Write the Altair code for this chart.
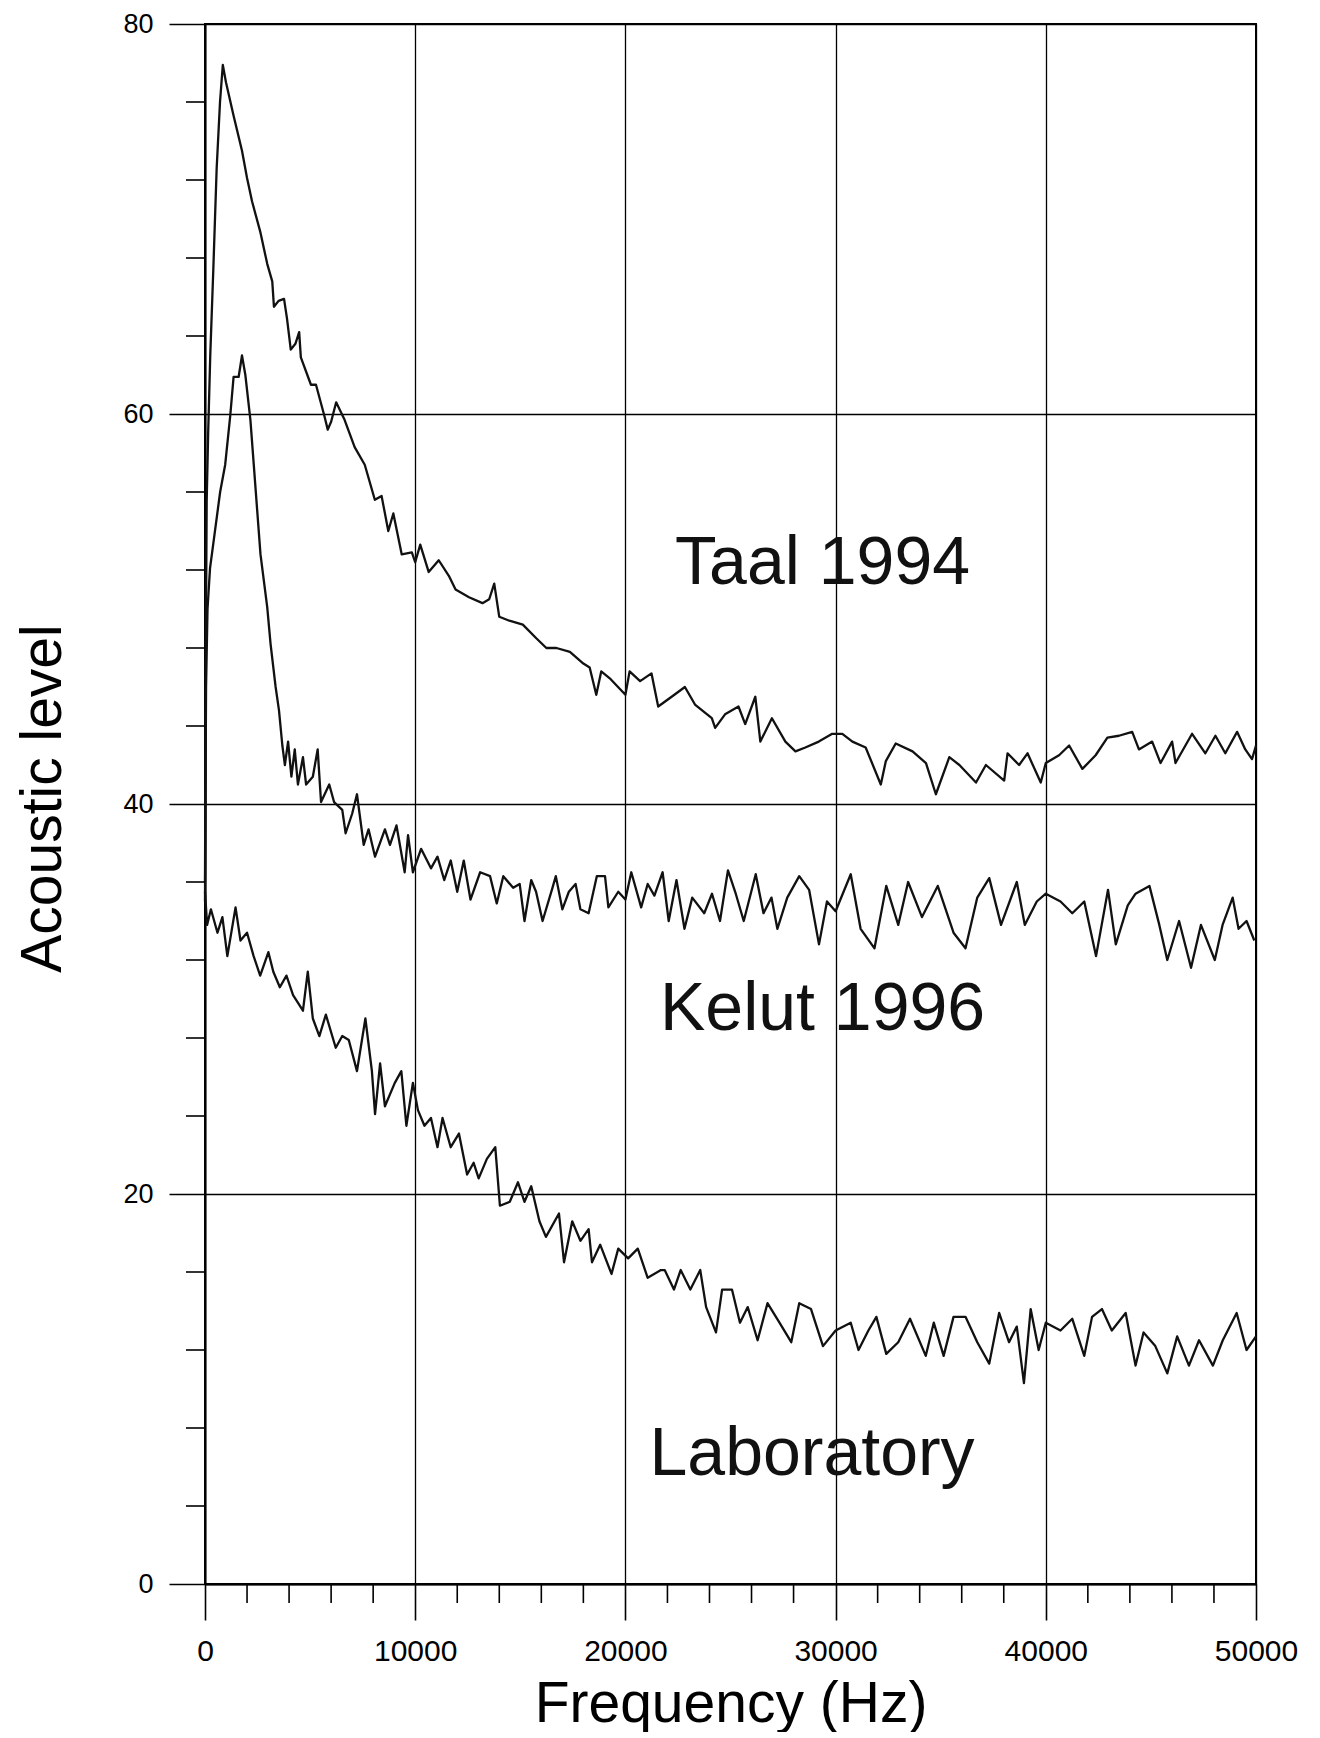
import altair as alt
import pandas as pd

# ---- data (frequency in Hz, acoustic level) ----
taal_hz = [0, 40, 80, 150, 250, 395, 555, 714, 848, 1000, 1360, 1760, 2000, 2240, 2640, 2960, 3200, 3280, 3500,
           3760, 3900, 4080, 4300, 4480, 4560, 5040, 5280, 5680, 5840, 6000, 6240, 6640, 7120, 7600, 8080, 8400,
           8720, 8960, 9360, 9840, 10000, 10240, 10640, 11120, 11600, 11920, 12560, 13200, 13520, 13760, 14000,
           14480, 15120, 15760, 16240, 16720, 17360, 18000, 18300, 18615, 18850, 19300, 19650, 20000, 20200, 20700,
           21240, 21560, 22200, 22830, 23310, 24110, 24270, 24740, 25380, 25700, 26180, 26420, 26970, 27610, 28090,
           28560, 29200, 29840, 30320, 30800, 31430, 32150, 32390, 32860, 33660, 34300, 34770, 35410, 35890, 36680,
           37150, 38020, 38180, 38730, 39130, 39760, 40000, 40630, 41110, 41740, 42370, 42930, 43480, 44110, 44430,
           45060, 45460, 46010, 46170, 46960, 47590, 48070, 48540, 49100, 49490, 49810, 50000]
taal_level = [36.0, 48.0, 55.5, 59.0, 63.0, 67.4, 72.6, 76.0, 77.9, 77.0, 75.3, 73.5, 72.1, 70.9, 69.3, 67.7, 66.8,
              65.5, 65.8, 65.9, 64.9, 63.3, 63.6, 64.2, 62.9, 61.5, 61.5, 59.9, 59.2, 59.6, 60.6, 59.7, 58.3, 57.4,
              55.6, 55.8, 54.0, 54.9, 52.8, 52.9, 52.4, 53.3, 51.9, 52.5, 51.7, 51.0, 50.6, 50.3, 50.5, 51.3, 49.6,
              49.4, 49.2, 48.5, 48.0, 48.0, 47.8, 47.2, 47.0, 45.6, 46.8, 46.4, 46.0, 45.6, 46.8, 46.3, 46.7, 45.0,
              45.5, 46.0, 45.1, 44.4, 43.9, 44.6, 45.0, 44.1, 45.5, 43.2, 44.4, 43.2, 42.7, 42.9, 43.2, 43.6, 43.6,
              43.2, 42.9, 41.0, 42.2, 43.1, 42.7, 42.1, 40.5, 42.4, 42.0, 41.1, 42.0, 41.2, 42.6, 42.0, 42.6, 41.1,
              42.1, 42.5, 43.0, 41.8, 42.5, 43.4, 43.5, 43.7, 42.8, 43.2, 42.1, 43.2, 42.1, 43.6, 42.6, 43.5, 42.6,
              43.7, 42.8, 42.3, 43.0]

kelut_hz = [0, 50, 120, 240, 450, 720, 960, 1200, 1360, 1600, 1760, 1920, 2160, 2320, 2480, 2640, 2960, 3120, 3360,
            3520, 3680, 3800, 3953, 4110, 4270, 4420, 4660, 4810, 5130, 5360, 5520, 5910, 6140, 6530, 6690, 7000,
            7230, 7550, 7780, 8090, 8560, 8800, 9110, 9500, 9660, 9890, 10280, 10750, 11060, 11380, 11690, 12000,
            12310, 12630, 13090, 13560, 13880, 14190, 14660, 14970, 15200, 15520, 15750, 16060, 16530, 16690, 17000,
            17310, 17630, 17860, 18250, 18640, 19030, 19190, 19660, 20000, 20280, 20750, 21060, 21380, 21770, 22060,
            22430, 22810, 23180, 23750, 24120, 24500, 24880, 25250, 25630, 26200, 26570, 26950, 27230, 27700, 28270,
            28740, 29210, 29590, 30000, 30720, 31190, 31850, 32410, 32980, 33450, 34110, 34860, 35610, 36180, 36740,
            37310, 37870, 38620, 39000, 39570, 40000, 40700, 41260, 41830, 42390, 42960, 43330, 43900, 44270, 44930,
            45400, 45780, 46340, 46910, 47380, 48040, 48410, 48890, 49170, 49550, 49920]
kelut_level = [35.0, 46.0, 50.0, 52.1, 53.8, 56.0, 57.4, 59.9, 61.9, 61.9, 63.0, 62.0, 59.7, 57.4, 55.1, 52.8, 50.1,
               48.2, 46.0, 44.8, 43.0, 42.0, 43.2, 41.4, 42.8, 41.0, 42.4, 41.0, 41.4, 42.8, 40.1, 41.0, 40.1, 39.7,
               38.5, 39.5, 40.5, 37.9, 38.7, 37.3, 38.7, 37.9, 38.9, 36.5, 38.4, 36.5, 37.7, 36.7, 37.3, 36.1, 37.1,
               35.5, 37.1, 35.1, 36.5, 36.3, 34.9, 36.3, 35.7, 35.9, 34.0, 36.1, 35.5, 34.0, 35.7, 36.3, 34.6, 35.5,
               35.9, 34.6, 34.4, 36.3, 36.3, 34.7, 35.5, 35.1, 36.5, 34.7, 35.9, 35.3, 36.5, 34.0, 36.1, 33.6, 35.2,
               34.4, 35.4, 34.0, 36.6, 35.4, 34.0, 36.4, 34.4, 35.2, 33.6, 35.2, 36.3, 35.6, 32.8, 35.0, 34.5, 36.4,
               33.6, 32.6, 35.8, 33.8, 36.0, 34.2, 35.8, 33.4, 32.6, 35.2, 36.2, 33.8, 36.0, 33.8, 35.0, 35.4, 35.0,
               34.4, 35.0, 32.2, 35.6, 32.8, 34.8, 35.4, 35.8, 33.8, 32.0, 34.0, 31.6, 33.8, 32.0, 33.8, 35.2, 33.6,
               34.0, 33.0]

lab_hz = [0, 100, 281, 594, 828, 1063, 1453, 1688, 2000, 2313, 2625, 3016, 3250, 3560, 3875, 4190, 4660, 4890, 5130,
          5440, 5750, 6220, 6530, 6840, 7230, 7630, 7940, 8090, 8330, 8560, 9030, 9340, 9580, 9890, 10130, 10440,
          10750, 11060, 11300, 11690, 12080, 12470, 12780, 13020, 13410, 13810, 14030, 14500, 14890, 15200, 15520,
          15910, 16220, 16840, 17080, 17470, 17860, 18250, 18410, 18800, 19340, 19660, 20130, 20590, 21060, 21690,
          21870, 22310, 22630, 23090, 23560, 23840, 24310, 24600, 25070, 25450, 25820, 26290, 26760, 27330, 27890,
          28270, 28830, 29400, 30000, 30720, 31090, 31560, 31940, 32410, 32980, 33540, 34290, 34670, 35140, 35610,
          36180, 36740, 37310, 37780, 38250, 38620, 38960, 39280, 39660, 40000, 40700, 41260, 41830, 42200, 42670,
          43140, 43800, 44270, 44650, 45210, 45780, 46250, 46810, 47290, 47950, 48420, 49080, 49550, 50000]
lab_level = [35.5, 33.8, 34.6, 33.4, 34.2, 32.2, 34.7, 33.0, 33.4, 32.2, 31.2, 32.4, 31.4, 30.6, 31.2, 30.2, 29.4,
             31.4, 29.0, 28.1, 29.2, 27.5, 28.1, 27.9, 26.3, 29.0, 26.3, 24.1, 26.7, 24.5, 25.7, 26.3, 23.5, 25.7,
             24.3, 23.5, 23.9, 22.4, 23.9, 22.4, 23.1, 21.0, 21.6, 20.8, 21.8, 22.4, 19.4, 19.6, 20.6, 19.6, 20.4,
             18.6, 17.8, 19.0, 16.5, 18.6, 17.6, 18.2, 16.5, 17.4, 15.9, 17.2, 16.7, 17.2, 15.7, 16.1, 16.1, 15.1,
             16.1, 15.1, 16.1, 14.2, 12.9, 15.1, 15.1, 13.4, 14.2, 12.5, 14.4, 13.4, 12.4, 14.4, 14.1, 12.2, 13.0,
             13.4, 12.0, 13.0, 13.7, 11.8, 12.4, 13.6, 11.7, 13.4, 11.7, 13.7, 13.7, 12.4, 11.3, 13.9, 12.4, 13.2,
             10.3, 14.1, 12.0, 13.4, 13.0, 13.6, 11.7, 13.7, 14.1, 13.0, 13.9, 11.2, 12.9, 12.2, 10.8, 12.7, 11.2,
             12.5, 11.2, 12.5, 13.9, 12.0, 12.7]

label_text = ["Taal 1994", "Kelut 1996", "Laboratory"]
label_hz = [29380, 29380, 28880]
label_level = [51.3, 28.4, 5.6]

x_major = [0, 10000, 20000, 30000, 40000, 50000]
y_major = [0, 20, 40, 60, 80]
x_minor = [v for v in range(2000, 50000, 2000) if v % 10000 != 0]
y_minor = [v for v in range(4, 80, 4) if v % 20 != 0]

# ---- tables ----
rows = []
for name, hz, lv in [("Taal 1994", taal_hz, taal_level),
                     ("Kelut 1996", kelut_hz, kelut_level),
                     ("Laboratory", lab_hz, lab_level)]:
    for i, (h, l) in enumerate(zip(hz, lv)):
        rows.append({"series": name, "hz": h, "level": l, "order": i})
df = pd.DataFrame(rows)
labels_df = pd.DataFrame({"text": label_text, "hz": label_hz, "level": label_level})
xminor_df = pd.DataFrame({"hz": x_minor})
yminor_df = pd.DataFrame({"level": y_minor})

FONT = "Liberation Sans"
W, H = 1051, 1560
XT, YT = "Frequency (Hz)", "Acoustic level"
xscale = alt.Scale(domain=[0, 50000], nice=False, zero=False)
yscale = alt.Scale(domain=[0, 80], nice=False, zero=False)

x_axis = alt.Axis(values=x_major, format="d", labelFontSize=30, labelFont=FONT, labelColor="black",
                  tickSize=36, tickColor="black", tickWidth=1.6, domainColor="black", domainWidth=2,
                  grid=True, gridColor="black", gridWidth=1.3, gridOpacity=1, labelPadding=16,
                  labelFlush=False, labelOverlap=False,
                  titleFont=FONT, titleFontSize=57, titleFontWeight="normal",
                  titleColor="black", titleX=W / 2, titleY=137, titleAlign="center",
                  titleBaseline="alphabetic")
y_axis = alt.Axis(values=y_major, labelFontSize=27, labelFont=FONT, labelColor="black",
                  tickSize=36, tickColor="black", tickWidth=1.6, domainColor="black", domainWidth=2,
                  grid=True, gridColor="black", gridWidth=1.3, gridOpacity=1, labelPadding=16,
                  labelFlush=False, labelOverlap=False,
                  titleFont=FONT, titleFontSize=57, titleFontWeight="normal",
                  titleColor="black", titleX=-145, titleY=774, titleAngle=270, titleAlign="center",
                  titleBaseline="alphabetic")

lines = alt.Chart(df).mark_line(strokeWidth=2.3, strokeJoin="round").encode(
    x=alt.X("hz:Q", scale=xscale, axis=x_axis, title=XT),
    y=alt.Y("level:Q", scale=yscale, axis=y_axis, title=YT),
    detail="series:N",
    order="order:Q",
    color=alt.value("#111111"),
)

texts = alt.Chart(labels_df).mark_text(font=FONT, fontSize=68, align="center", baseline="alphabetic",
                                       color="#111111").encode(
    x=alt.X("hz:Q", scale=xscale, title=XT),
    y=alt.Y("level:Q", scale=yscale, title=YT),
    text="text:N",
)

yminor = alt.Chart(yminor_df).mark_rule(color="black", strokeWidth=1.6).encode(
    y=alt.Y("level:Q", scale=yscale, title=YT),
    x=alt.value(-19),
    x2=alt.value(0),
)
xminor = alt.Chart(xminor_df).mark_rule(color="black", strokeWidth=1.6).encode(
    x=alt.X("hz:Q", scale=xscale, title=XT),
    y=alt.value(H),
    y2=alt.value(H + 19),
)

chart = alt.layer(lines, yminor, xminor, texts).properties(
    width=W, height=H,
    autosize=alt.AutoSizeParams(type="none"),
    padding={"left": 197, "top": 16, "right": 56, "bottom": 148},
    background="white",
).configure_view(stroke="black", strokeWidth=2)

chart.save("out.html", embed_options={"renderer": "svg", "actions": False})
